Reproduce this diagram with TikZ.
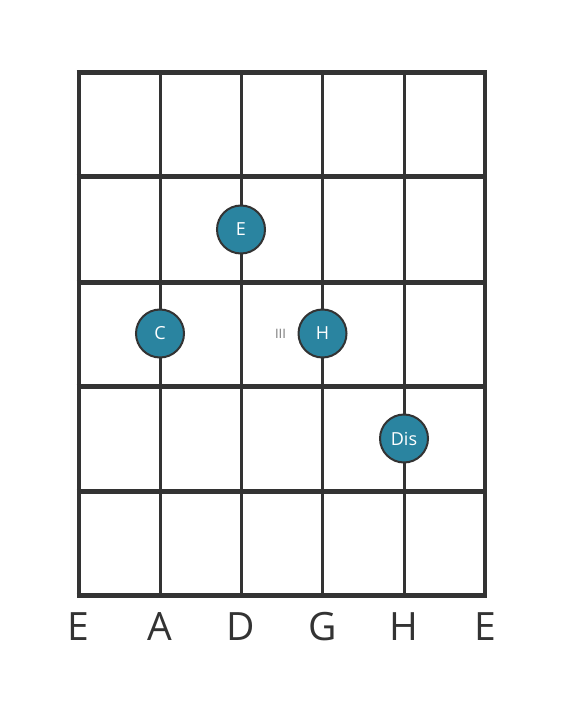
\documentclass[tikz,border=0pt]{standalone}
\usepackage{fontspec}
\setmainfont{Open Sans}
\usetikzlibrary{positioning}
\definecolor{gridgray}{RGB}{51,51,51}
\definecolor{noteblue}{RGB}{42,132,160}
\definecolor{markgray}{RGB}{120,120,120}
\tikzset{
    fretline/.style={draw=gridgray, line width=5pt},
    stringline/.style={draw=gridgray, line width=3pt},
    note/.style={draw=gridgray, line width=2pt, fill=noteblue, circle,
        minimum size=48pt, inner sep=0pt, text=white, font=\fontsize{18}{18}\selectfont},
    stringname/.style={anchor=base, text=gridgray, font=\fontsize{39}{39}\selectfont},
    fretmark/.style={text=markgray, font=\fontsize{13}{13}\selectfont}
}

\begin{document}
\begin{tikzpicture}[x=1pt, y=-1pt]
    \useasboundingbox (0,0) rectangle (566,711);
    \def \top {72.5}
    \def \bot {595.5}
    % strings
    \foreach \x in {160, 241, 322.5, 404}
        \draw[stringline] (\x,\top) -- (\x,\bot);
    \draw[stringline, line width=4pt] (78.5,\top) -- (78.5,\bot);
    \draw[stringline, line width=4pt] (485,\top) -- (485,\bot);
    % frets
    \foreach \y in {72.5, 177, 282, 386, 491, 595.5}
        \draw[fretline] (76.5,\y) -- (487,\y);
    % notes
    \node[note] (nE) at (241, 229.5) {E};
    \node[note] (nC) at (160, 333.5) {C};
    \node[note] (nH) at (322.5, 333.5) {H};
    \node[note] (nDis) at (404, 438.5) {Dis};
    \node[fretmark, left=8pt of nH] (mIII) {III};
    % string names
    \node[stringname] (s1) at (78.5, 640) {E};
    \node[stringname] (s2) at (160, 640) {A};
    \node[stringname] (s3) at (241, 640) {D};
    \node[stringname] (s4) at (322.5, 640) {G};
    \node[stringname] (s5) at (404, 640) {H};
    \node[stringname] (s6) at (485, 640) {E};
\end{tikzpicture}
\end{document}
